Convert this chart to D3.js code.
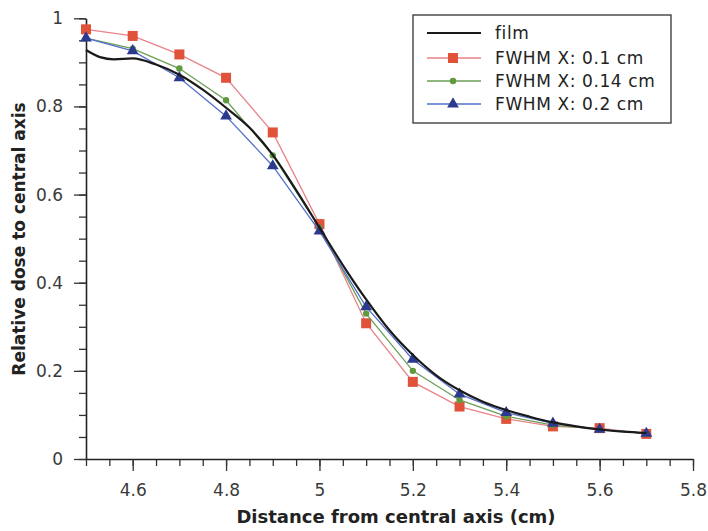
<!DOCTYPE html>
<html><head><meta charset="utf-8">
<script src="https://cdn.jsdelivr.net/npm/d3@7"></script>
<style>body{margin:0;background:#fff}svg{display:block}text{font-family:"DejaVu Sans",sans-serif}</style>
</head><body><svg id="c" width="708" height="531"></svg>
<script>
const xPts = [4.5,4.6,4.7,4.8,4.9,5.0,5.1,5.2,5.3,5.4,5.5,5.6,5.7];
const fwhm01 = [0.975,0.960,0.918,0.865,0.741,0.533,0.308,0.175,0.119,0.091,0.074,0.070,0.057];
const fwhm014 = [0.955,0.931,0.886,0.814,0.689,0.525,0.330,0.200,0.134,0.097,0.077,0.067,0.058];
const fwhm02 = [0.955,0.926,0.865,0.778,0.665,0.517,0.345,0.226,0.147,0.105,0.081,0.067,0.058];
const filmX = [4.5,4.53,4.56,4.6,4.65,4.7,4.75,4.8,4.85,4.9,4.95,5.0,5.05,5.1,5.15,5.2,5.25,5.3,5.35,5.4,5.45,5.5,5.55,5.6,5.65,5.7];
const filmY = [0.928,0.912,0.907,0.909,0.895,0.872,0.838,0.797,0.752,0.690,0.610,0.525,0.440,0.362,0.292,0.236,0.190,0.156,0.130,0.111,0.096,0.083,0.074,0.067,0.062,0.059];
const xTicks = [4.6,4.8,5.0,5.2,5.4,5.6,5.8];
const yTicks = [0,0.2,0.4,0.6,0.8,1];
const legendLabels = ["film","FWHM X: 0.1 cm","FWHM X: 0.14 cm","FWHM X: 0.2 cm"];

const svg = d3.select("#c");
const x = d3.scaleLinear().domain([4.5,5.8]).range([86,693]);
const y = d3.scaleLinear().domain([0,1]).range([459,18.3]);

// axes
const xMinor = d3.range(4.5,5.8001,0.05);
const yMinor = d3.range(0,1.0001,0.05);
const fmt = d=>d3.format("")(+d.toFixed(1));
const gx = svg.append("g").attr("transform","translate(0,459)");
gx.append("g").call(d3.axisBottom(x).tickValues(xMinor).tickSize(7).tickFormat("")).call(g=>g.select(".domain").remove());
gx.append("g").call(d3.axisBottom(x).tickValues(xTicks).tickSize(12).tickPadding(13).tickSizeOuter(0).tickFormat(fmt));
const gy = svg.append("g").attr("transform","translate(86,0)");
gy.append("g").call(d3.axisLeft(y).tickValues(yMinor).tickSize(7).tickFormat("")).call(g=>g.select(".domain").remove());
gy.append("g").call(d3.axisLeft(y).tickValues(yTicks).tickSize(12).tickPadding(11).tickSizeOuter(0).tickFormat(fmt));
svg.selectAll(".tick line").attr("stroke","#333").attr("stroke-width",1.3);
svg.selectAll(".domain").attr("stroke","#222").attr("stroke-width",1.6);
svg.selectAll(".tick text").attr("font-size",17).attr("fill","#3a3a3a").attr("font-family","DejaVu Sans");

svg.append("text").attr("x",396).attr("y",523).attr("text-anchor","middle").attr("font-size",18).attr("font-weight","bold").attr("fill","#222").text("Distance from central axis (cm)");
svg.append("text").attr("transform","translate(25,239) rotate(-90)").attr("text-anchor","middle").attr("font-size",17).attr("font-weight","bold").attr("fill","#222").text("Relative dose to central axis");

const series = [
  {vals:fwhm01, line:"#e8838a", mark:"#e0523a", shape:d3.symbolSquare, size:100},
  {vals:fwhm014, line:"#6a9f55", mark:"#5f9a3c", shape:d3.symbolCircle, size:32},
  {vals:fwhm02, line:"#5570c8", mark:"#2b3a8f", shape:d3.symbolTriangle, size:60}
];
const line = d3.line().x(d=>x(d[0])).y(d=>y(d[1]));
series.forEach(s=>{
  const pts = xPts.map((v,i)=>[v,s.vals[i]]);
  svg.append("path").attr("d",line(pts)).attr("fill","none").attr("stroke",s.line).attr("stroke-width",1.3);
  svg.append("g").selectAll("path").data(pts).join("path")
    .attr("transform",d=>`translate(${x(d[0])},${y(d[1])})`)
    .attr("d",d3.symbol().type(s.shape).size(s.size)).attr("fill",s.mark);
});
const filmPts = filmX.map((v,i)=>[v,filmY[i]]);
svg.append("path").attr("d",d3.line().x(d=>x(d[0])).y(d=>y(d[1])).curve(d3.curveMonotoneX)(filmPts))
  .attr("fill","none").attr("stroke","#1a1a1a").attr("stroke-width",2.2);

// legend
const lg = svg.append("g");
lg.append("rect").attr("x",413).attr("y",15).attr("width",258).attr("height",108).attr("fill","#fff").attr("stroke","#333").attr("stroke-width",1.3);
const ly = [33,58,81,104];
legendLabels.forEach((t,i)=>{
  const yy = ly[i];
  if(i===0){
    lg.append("line").attr("x1",427).attr("x2",481).attr("y1",yy).attr("y2",yy).attr("stroke","#1a1a1a").attr("stroke-width",2.2);
  } else {
    const s = series[i-1];
    lg.append("line").attr("x1",427).attr("x2",481).attr("y1",yy).attr("y2",yy).attr("stroke",s.line).attr("stroke-width",1.3);
    lg.append("path").attr("transform",`translate(453,${yy})`).attr("d",d3.symbol().type(s.shape).size(s.size)).attr("fill",s.mark);
  }
  lg.append("text").attr("x",495).attr("y",yy+6).attr("font-size",17).attr("letter-spacing",0.6).attr("fill","#222").text(t);
});
</script></body></html>
